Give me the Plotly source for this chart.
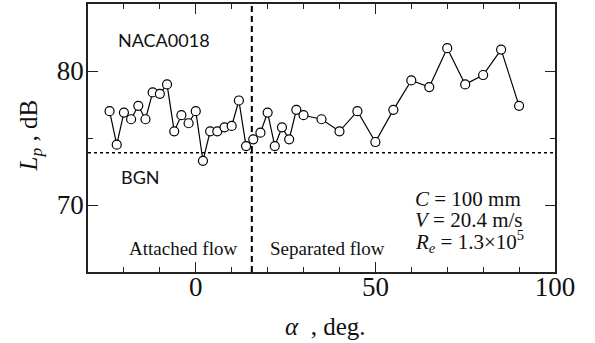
import plotly.graph_objects as go

# ---- data ----
alpha = [-24, -22, -20, -18, -16, -14, -12, -10, -8, -6, -4, -2, 0, 2, 4, 6, 8, 10,
         12, 14, 16, 18, 20, 22, 24, 26, 28, 30, 35, 40, 45, 50, 55, 60, 65, 70,
         75, 80, 85, 90]
Lp = [77.0, 74.5, 76.9, 76.4, 77.4, 76.4, 78.4, 78.3, 79.0, 75.5, 76.7, 76.1,
      77.0, 73.3, 75.5, 75.5, 75.8, 75.9, 77.8, 74.4, 74.9, 75.4, 76.9, 74.4,
      75.8, 74.9, 77.1, 76.7, 76.4, 75.5, 77.0, 74.7, 77.1, 79.3, 78.8, 81.7,
      79.0, 79.7, 81.6, 77.4]
bgn_level = 73.9
stall_alpha = 15.6
x_range = [-30, 100]
y_range = [65, 85]
x_ticks = [0, 50, 100]
y_ticks = [70, 80]

SERIF = "Liberation Serif, Times New Roman, serif"
SANS = "Lato, Liberation Sans, sans-serif"
AX = "#222222"

fig = go.Figure()
fig.add_trace(go.Scatter(
    x=alpha, y=Lp, mode="lines+markers",
    line=dict(color="black", width=1.2),
    marker=dict(symbol="circle", size=9, color="white",
                line=dict(color="black", width=1.2)),
    showlegend=False, cliponaxis=False,
))

# BGN dotted line
fig.add_shape(type="line", xref="x", yref="y", x0=x_range[0], x1=x_range[1],
              y0=bgn_level, y1=bgn_level,
              line=dict(color="black", width=1.6, dash="dot"), layer="below")
# stall dashed line
fig.add_shape(type="line", xref="x", yref="y", x0=stall_alpha, x1=stall_alpha,
              y0=y_range[0], y1=y_range[1],
              line=dict(color="black", width=2, dash="6px,4px"), layer="below")

ann = []
ann.append(dict(x=-22.1, y=82.3, xref="x", yref="y", text="NACA0018",
                xanchor="left", yanchor="middle", showarrow=False,
                font=dict(family=SANS, size=18, color="#111")))
ann.append(dict(x=-21.3, y=72.1, xref="x", yref="y", text="BGN",
                xanchor="left", yanchor="middle", showarrow=False,
                font=dict(family=SANS, size=18, color="#111")))
ann.append(dict(x=-19.2, y=66.75, xref="x", yref="y", text="Attached flow",
                xanchor="left", yanchor="middle", showarrow=False,
                font=dict(family=SERIF, size=19, color="#111")))
ann.append(dict(x=20.0, y=66.75, xref="x", yref="y", text="Separated flow",
                xanchor="left", yanchor="middle", showarrow=False,
                font=dict(family=SERIF, size=19, color="#111")))
ann.append(dict(x=60.6, y=70.45, xref="x", yref="y", text="<i>C</i> = 100 mm",
                xanchor="left", yanchor="middle", showarrow=False,
                font=dict(family=SERIF, size=21, color="#111")))
ann.append(dict(x=60.6, y=68.9, xref="x", yref="y", text="<i>V</i> = 20.4 m/s",
                xanchor="left", yanchor="middle", showarrow=False,
                font=dict(family=SERIF, size=21, color="#111")))
ann.append(dict(x=60.6, y=67.3, xref="x", yref="y",
                text="<i>R<sub>e</sub></i> = 1.3×10<sup>5</sup>",
                xanchor="left", yanchor="middle", showarrow=False,
                font=dict(family=SERIF, size=21, color="#111")))
# axis titles
ann.append(dict(x=0.508, y=-0.205, xref="paper", yref="paper",
                text="<i>α</i>  , deg.", xanchor="center", yanchor="middle",
                showarrow=False, font=dict(family=SERIF, size=25, color="#111")))
ann.append(dict(x=-0.124, y=0.51, xref="paper", yref="paper",
                text="<i>L<sub>p</sub></i> , dB", textangle=-90,
                xanchor="center", yanchor="middle",
                showarrow=False, font=dict(family=SERIF, size=25, color="#111")))

fig.update_layout(
    width=595, height=343,
    margin=dict(l=88, r=40, t=4, b=71),
    paper_bgcolor="white", plot_bgcolor="white",
    annotations=ann,
    xaxis=dict(range=x_range, tickvals=x_ticks, ticks="inside", ticklen=10,
               tickwidth=1.2, tickcolor=AX, showline=True, linecolor=AX,
               linewidth=1.5, mirror="ticks", showgrid=False, zeroline=False,
               automargin=False, ticklabelstandoff=-10,
               tickfont=dict(family=SERIF, size=27, color="#111"),
               minor=dict(dtick=10, tick0=0, ticks="inside", ticklen=5,
                          tickwidth=1.2, tickcolor=AX, showgrid=False)),
    yaxis=dict(range=y_range, tickvals=y_ticks, ticks="inside", ticklen=10,
               tickwidth=1.2, tickcolor=AX, showline=True, linecolor=AX,
               linewidth=1.5, mirror="ticks", showgrid=False, zeroline=False,
               automargin=False, ticklabelstandoff=-3,
               tickfont=dict(family=SERIF, size=27, color="#111"),
               minor=dict(dtick=5, tick0=0, ticks="inside", ticklen=5,
                          tickwidth=1.2, tickcolor=AX, showgrid=False)),
)

fig.write_html("out.html", config={"displayModeBar": False},
               post_script="document.body.style.margin='0px';"
                           "document.body.style.overflow='hidden';")
